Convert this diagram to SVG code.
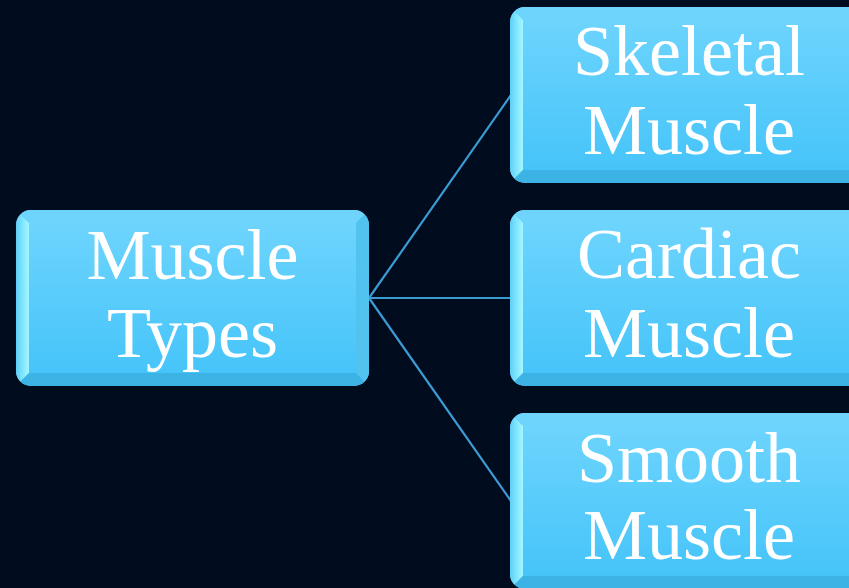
<svg xmlns="http://www.w3.org/2000/svg" width="849" height="588" viewBox="0 0 849 588">
  <defs>
    <linearGradient id="face" x1="0" y1="0" x2="0" y2="1">
      <stop offset="0" stop-color="#6dd4fd"/>
      <stop offset="1" stop-color="#46c4f9"/>
    </linearGradient>
    <linearGradient id="leftBevel" x1="0" y1="0" x2="1" y2="0">
      <stop offset="0" stop-color="#5fcdf6"/>
      <stop offset="0.5" stop-color="#7fe6ff"/>
      <stop offset="1" stop-color="#a6f6ff"/>
    </linearGradient>
    <clipPath id="boxClip" clipPathUnits="userSpaceOnUse">
      <rect x="0" y="0" width="353" height="176" rx="15" ry="15"/>
    </clipPath>
    <style>
      .outer { fill: #5ccbf5; }
      .face { fill: url(#face); }
      .bt { fill: #6ed4fb; }
      .bl { fill: url(#leftBevel); }
      .br { fill: #52c2ee; }
      .bb { fill: #3db2e4; }
      .label { font-family: "Liberation Serif", "Times New Roman", serif; font-size: 72px; fill: #ffffff; text-anchor: middle; }
      .conn { stroke: #3b9bd2; stroke-width: 2.2; fill: none; }
    </style>
  </defs>
  <rect x="0" y="0" width="849" height="588" fill="#010d1f"/>

  <g id="connectors">
    <line class="conn" x1="369" y1="298" x2="511" y2="95"/>
    <line class="conn" x1="369" y1="298" x2="511" y2="298"/>
    <line class="conn" x1="369" y1="298" x2="511" y2="501"/>
  </g>

  <g id="node-muscle-types" transform="translate(16,210)">
    <g clip-path="url(#boxClip)">
      <rect class="outer" x="0" y="0" width="353" height="176"/>
      <polygon class="bt" points="0,0 353,0 340,13 13,13"/>
      <polygon class="bl" points="0,0 13,13 13,163 0,176"/>
      <polygon class="br" points="353,0 353,176 340,163 340,13"/>
      <polygon class="bb" points="0,176 13,163 340,163 353,176"/>
      <rect class="face" x="13" y="13" width="327" height="150"/>
    </g>
    <text class="label" x="176.5" y="69">Muscle</text>
    <text class="label" x="176.5" y="147">Types</text>
  </g>

  <g id="node-skeletal" transform="translate(510,7)">
    <g clip-path="url(#boxClip)">
      <rect class="outer" x="0" y="0" width="353" height="176"/>
      <polygon class="bt" points="0,0 353,0 340,13 13,13"/>
      <polygon class="bl" points="0,0 13,13 13,163 0,176"/>
      <polygon class="br" points="353,0 353,176 340,163 340,13"/>
      <polygon class="bb" points="0,176 13,163 340,163 353,176"/>
      <rect class="face" x="13" y="13" width="327" height="150"/>
    </g>
    <text class="label" x="179" y="68">Skeletal</text>
    <text class="label" x="179" y="147">Muscle</text>
  </g>

  <g id="node-cardiac" transform="translate(510,210)">
    <g clip-path="url(#boxClip)">
      <rect class="outer" x="0" y="0" width="353" height="176"/>
      <polygon class="bt" points="0,0 353,0 340,13 13,13"/>
      <polygon class="bl" points="0,0 13,13 13,163 0,176"/>
      <polygon class="br" points="353,0 353,176 340,163 340,13"/>
      <polygon class="bb" points="0,176 13,163 340,163 353,176"/>
      <rect class="face" x="13" y="13" width="327" height="150"/>
    </g>
    <text class="label" x="179" y="68">Cardiac</text>
    <text class="label" x="179" y="147">Muscle</text>
  </g>

  <g id="node-smooth" transform="translate(510,413)">
    <g clip-path="url(#boxClip)">
      <rect class="outer" x="0" y="0" width="353" height="176"/>
      <polygon class="bt" points="0,0 353,0 340,13 13,13"/>
      <polygon class="bl" points="0,0 13,13 13,163 0,176"/>
      <polygon class="br" points="353,0 353,176 340,163 340,13"/>
      <polygon class="bb" points="0,176 13,163 340,163 353,176"/>
      <rect class="face" x="13" y="13" width="327" height="150"/>
    </g>
    <text class="label" x="179" y="69">Smooth</text>
    <text class="label" x="179" y="146">Muscle</text>
  </g>
</svg>
